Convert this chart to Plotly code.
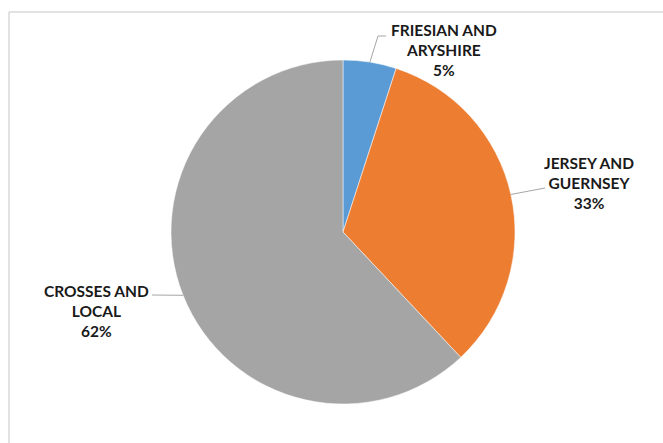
import math
import plotly.graph_objects as go

categories = ["FRIESIAN AND<br>ARYSHIRE", "JERSEY AND<br>GUERNSEY", "CROSSES AND<br>LOCAL"]
values = [5, 33, 62]
colors = ["#5B9BD5", "#ED7D31", "#A5A5A5"]

W, H = 663, 443
cx, cy, r = 343, 232, 172

fig = go.Figure(go.Pie(
    labels=categories, values=values, sort=False, direction="clockwise", rotation=0,
    marker=dict(colors=colors, line=dict(color="white", width=0.5)),
    textinfo="none", hoverinfo="label+percent", showlegend=False,
    domain=dict(x=[(cx - r) / W, (cx + r) / W], y=[(H - cy - r) / H, (H - cy + r) / H]),
))

# label placement (pixel positions of text centre and leader elbows)
label_pos = [(444, 50), (589, 183), (96, 311)]
leader_end = [[(378, 36), (386, 36)], [(545, 188)], [(152, 295)]]

def px(x):
    return x / W

def py(y):
    return 1 - y / H

total = sum(values)
cum = 0
shapes = [
    dict(type="line", xref="paper", yref="paper", x0=px(9), x1=1, y0=py(12), y1=py(12),
         line=dict(color="#D9D9D9", width=1.5)),
    dict(type="line", xref="paper", yref="paper", x0=px(9), x1=px(9), y0=py(12), y1=0,
         line=dict(color="#D9D9D9", width=1.5)),
]
annotations = []
for i, v in enumerate(values):
    mid = (cum + v / 2) / total * 2 * math.pi
    cum += v
    ex, ey = cx + r * math.sin(mid), cy - r * math.cos(mid)
    pts = [(ex, ey)] + leader_end[i]
    for (x0, y0), (x1, y1) in zip(pts[:-1], pts[1:]):
        shapes.append(dict(type="line", xref="paper", yref="paper",
                           x0=px(x0), y0=py(y0), x1=px(x1), y1=py(y1),
                           line=dict(color="#A6A6A6", width=1)))
    pct = round(v / total * 100)
    tx, ty = label_pos[i]
    annotations.append(dict(
        x=px(tx), y=py(ty), xref="paper", yref="paper", showarrow=False,
        text=f"<b>{categories[i]}<br>{pct}%</b>", align="center",
        font=dict(family="Lato", size=15.5, color="#1A1A1A"),
        xanchor="center", yanchor="middle",
    ))

fig.update_layout(
    width=W, height=H, margin=dict(l=0, r=0, t=0, b=0),
    paper_bgcolor="white", plot_bgcolor="white",
    shapes=shapes, annotations=annotations,
)
fig.write_html("out.html", config={"displayModeBar": False},
               post_script="document.body.style.margin='0px';")
